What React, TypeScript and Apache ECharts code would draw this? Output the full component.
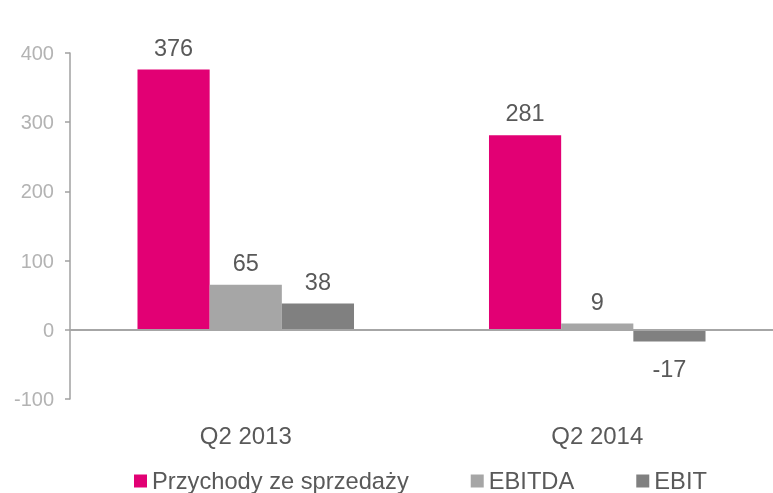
import React, { useEffect, useRef } from "react";
import * as echarts from "echarts";

const categories = ["Q2 2013", "Q2 2014"];
const seriesNames = ["Przychody ze sprzedaży", "EBITDA", "EBIT"];
const revenue = [376, 281];
const ebitda = [65, 9];
const ebit = [38, -17];
const yTicks = { min: -100, max: 400, interval: 100 };

const colors = ["#E20074", "#A6A6A6", "#808080"];
const FONT = "'Liberation Sans', Arial, sans-serif";

export default function App() {
  const ref = useRef<HTMLDivElement>(null);
  useEffect(() => {
    if (!ref.current) return;
    const chart = echarts.init(ref.current, undefined, { renderer: "svg" });
    const values = [revenue, ebitda, ebit];
    const labelStyle = {
      show: true,
      fontSize: 23.5,
      color: "#595959",
      fontFamily: FONT,
    };
    chart.setOption({
      animation: false,
      textStyle: { fontFamily: FONT },
      grid: { left: 70, width: 708, top: 53, bottom: 94, containLabel: false },
      legend: {
        data: seriesNames,
        left: 134,
        top: 469,
        padding: 0,
        itemWidth: 13,
        itemHeight: 13,
        itemGap: 62,
        icon: "rect",
        textStyle: { fontSize: 23.7, color: "#595959", fontFamily: FONT, padding: [0, 0, 0, 0] },
      },
      xAxis: {
        type: "category",
        data: categories,
        axisLine: { show: false, onZero: false },
        axisTick: { show: false },
        axisLabel: { fontSize: 24, color: "#595959", margin: 24, fontFamily: FONT },
        splitLine: { show: false },
      },
      yAxis: {
        type: "value",
        min: yTicks.min,
        max: yTicks.max,
        interval: yTicks.interval,
        axisLine: { show: true, lineStyle: { color: "#A0A0A0", width: 1.5 } },
        axisTick: { show: true, length: 5, lineStyle: { color: "#A0A0A0", width: 1.5 } },
        axisLabel: { fontSize: 20, color: "#B3B3B3", margin: 16, fontFamily: FONT },
        splitLine: { show: false },
      },
      series: seriesNames.map((name, i) => ({
        name,
        type: "bar",
        barGap: "0%",
        barCategoryGap: "38.4%",
        itemStyle: { color: colors[i] },
        data: values[i].map((v) => ({
          value: v,
          label: {
            ...labelStyle,
            position: v < 0 ? "bottom" : "top",
            distance: v < 0 ? 15 : 10,
          },
        })),
        markLine:
          i === 0
            ? {
                silent: true,
                symbol: "none",
                label: { show: false },
                lineStyle: { type: "solid", color: "#A6A6A6", width: 2 },
                data: [{ yAxis: 0 }],
              }
            : undefined,
      })),
    });
    return () => chart.dispose();
  }, []);
  return (
    <div
      ref={ref}
      style={{ position: "fixed", left: 0, top: 0, width: 773, height: 493 }}
    />
  );
}
